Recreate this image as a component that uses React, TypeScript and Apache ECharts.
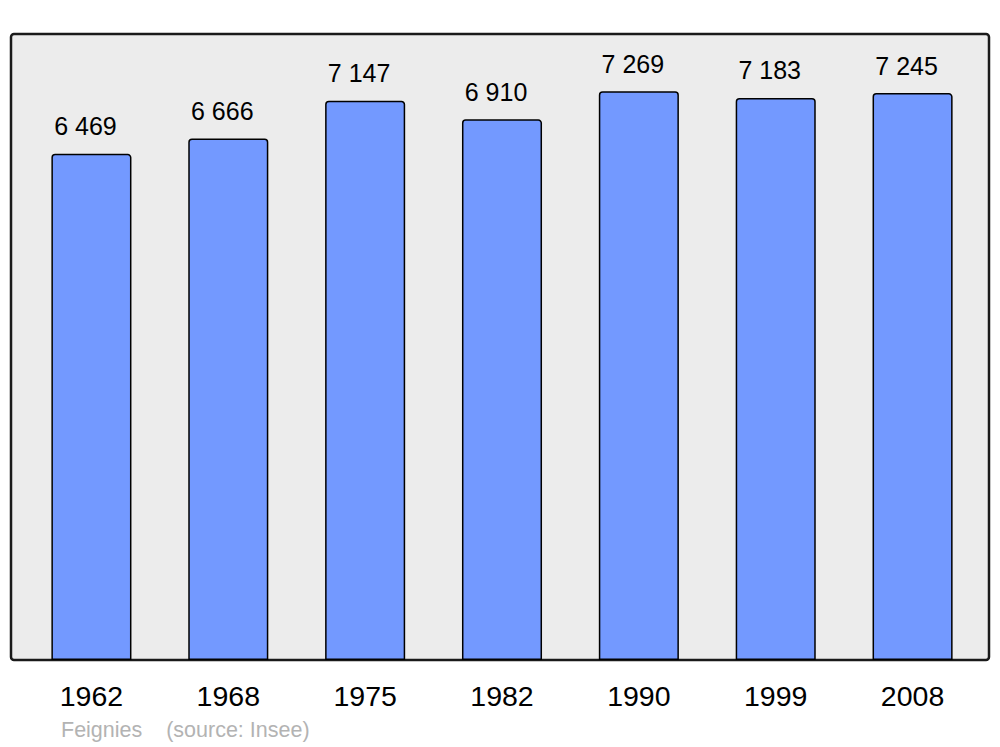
import React, { useEffect, useRef } from "react";
import * as echarts from "echarts";

const years = ["1962", "1968", "1975", "1982", "1990", "1999", "2008"];
const population = [6469, 6666, 7147, 6910, 7269, 7183, 7245];
const footerText = "Feignies    (source: Insee)";

function fmt(v: number): string {
  return String(v).replace(/\B(?=(\d{3})+(?!\d))/g, " ");
}

export default function App() {
  const ref = useRef<HTMLDivElement>(null);
  useEffect(() => {
    if (!ref.current) return;
    const chart = echarts.init(ref.current, undefined, { renderer: "svg" });
    chart.setOption({
      animation: false,
      backgroundColor: "#ffffff",
      textStyle: { fontFamily: "Liberation Sans, Arial, sans-serif" },
      graphic: [
        {
          type: "rect",
          z: -10,
          shape: { x: 11, y: 34, width: 978, height: 626, r: 3 },
          style: { fill: "#ececec", stroke: "#1a1a1a", lineWidth: 2.5 },
        },
        {
          type: "text",
          left: 61,
          top: 719,
          style: {
            text: footerText,
            fill: "#b3b3b3",
            font: "21.5px 'Liberation Sans', Arial, sans-serif",
          },
        },
      ],
      grid: { left: 23, right: 19, top: 34, bottom: 87, containLabel: false },
      xAxis: {
        type: "category",
        data: years,
        axisLine: { show: false },
        axisTick: { show: false },
        axisLabel: {
          color: "#000",
          fontSize: 28.5,
          margin: 21,
          fontFamily: "Liberation Sans, Arial, sans-serif",
        },
      },
      yAxis: {
        type: "value",
        min: 0,
        max: 8000,
        show: false,
        splitLine: { show: false },
      },
      series: [
        {
          type: "bar",
          data: population,
          barWidth: "58.5%",
          itemStyle: {
            color: "#7399ff",
            borderColor: "#000",
            borderWidth: 1.5,
            borderRadius: [3, 3, 0, 0],
          },
          label: {
            show: true,
            position: "top",
            distance: 15,
            offset: [-6, 0],
            color: "#000",
            fontSize: 25,
            fontFamily: "Liberation Sans, Arial, sans-serif",
            formatter: (p: any) => fmt(p.value),
          },
        },
      ],
    });
    return () => chart.dispose();
  }, []);
  return <div ref={ref} style={{ width: 1000, height: 747, position: "absolute", left: 0, top: 0 }} />;
}
